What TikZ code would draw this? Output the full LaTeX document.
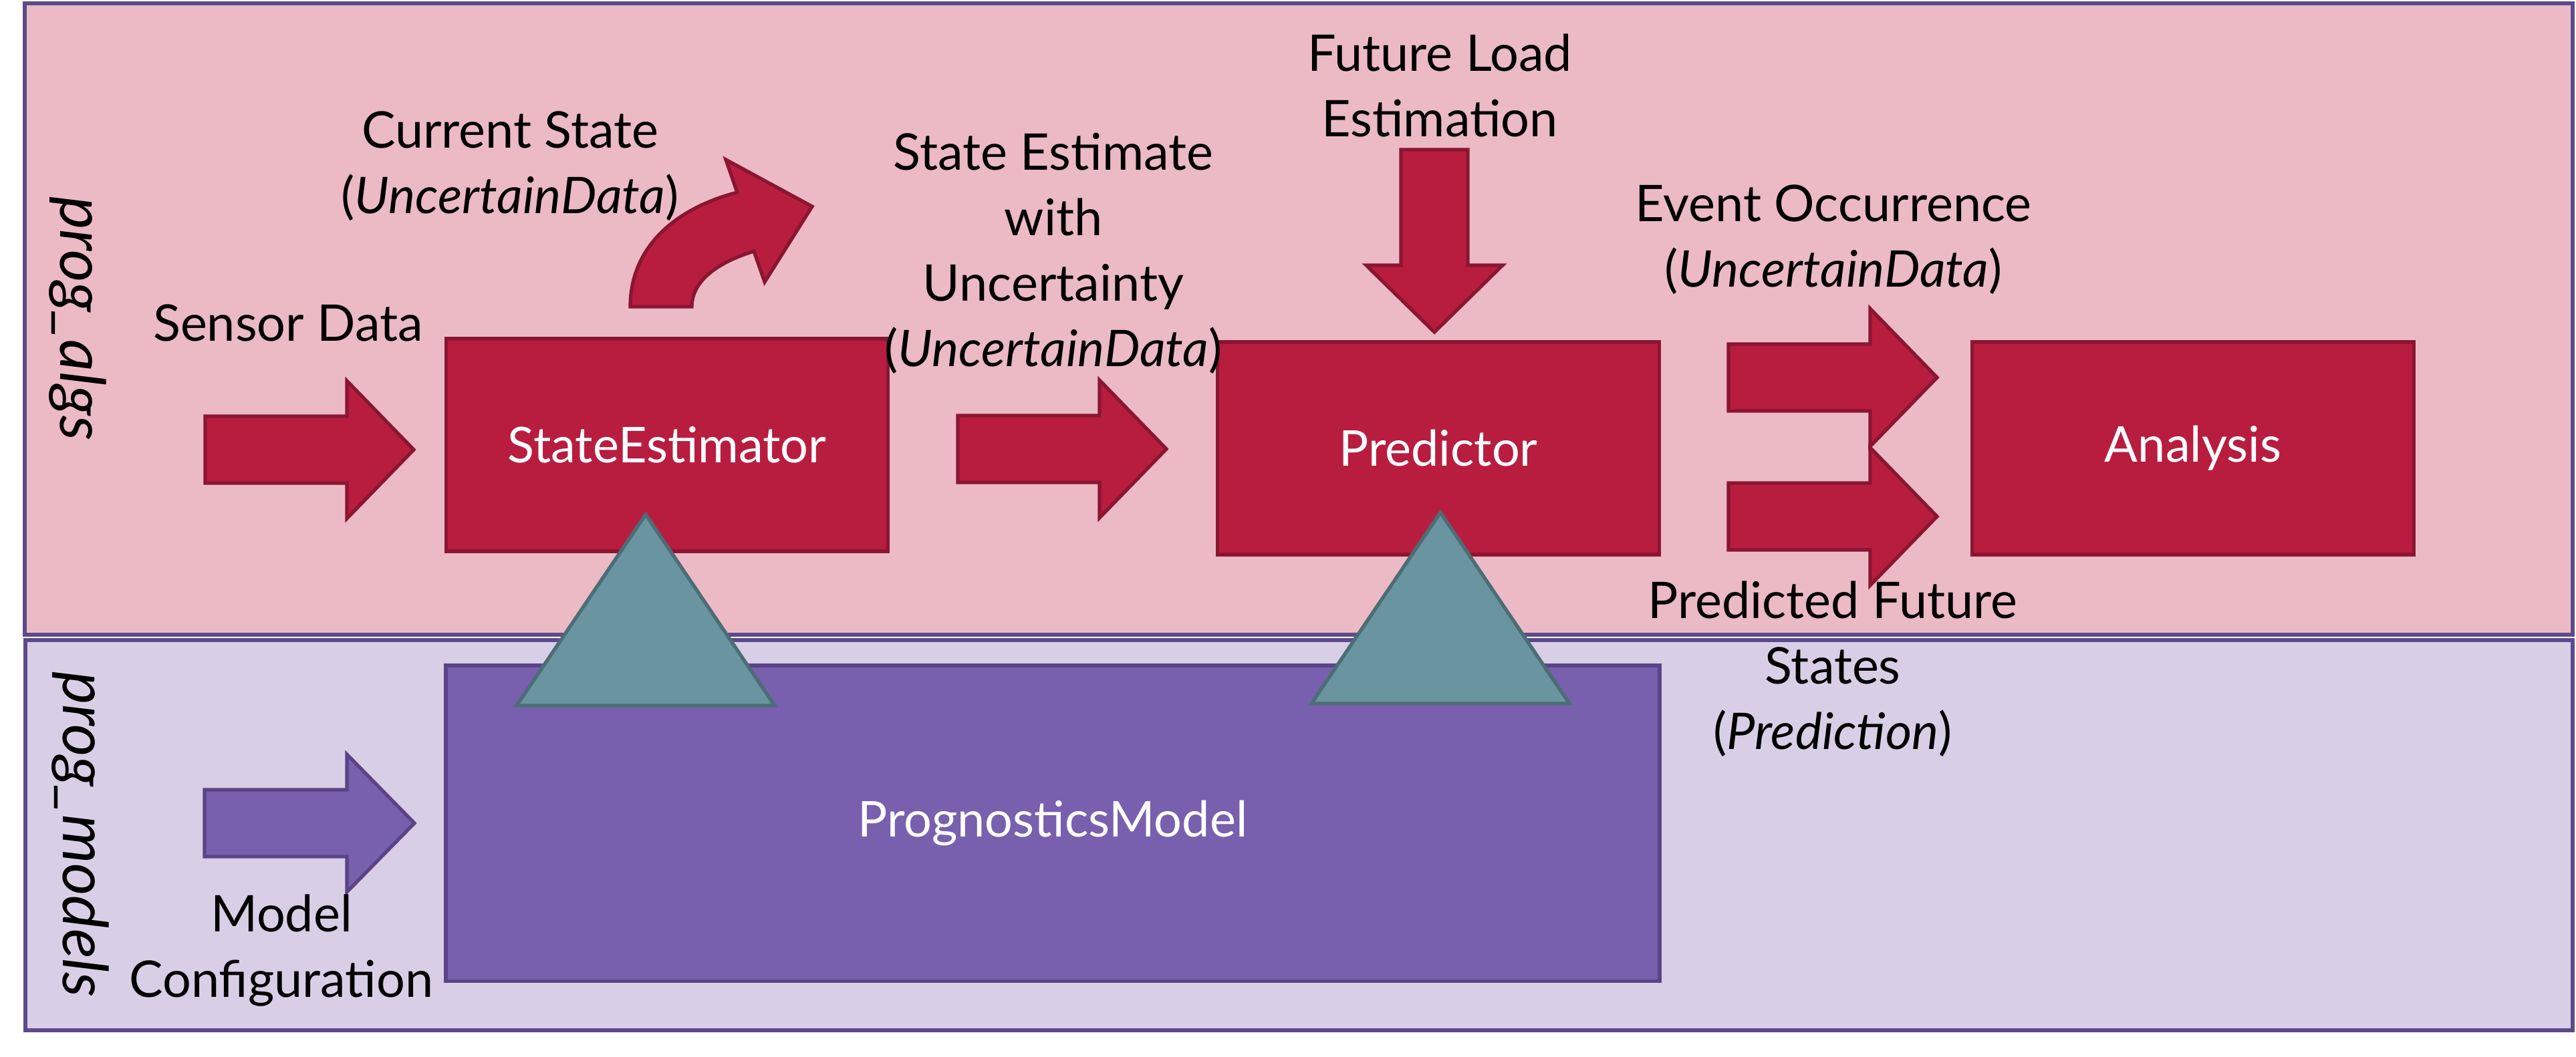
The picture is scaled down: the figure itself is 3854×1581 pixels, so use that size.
\documentclass[tikz,border=0pt]{standalone}
\usepackage{fontspec}
\setmainfont{Lato}
\definecolor{algsbg}{HTML}{EBBAC5}
\definecolor{modelsbg}{HTML}{D8CFE7}
\definecolor{panelline}{HTML}{5C4B8B}
\definecolor{redfill}{HTML}{B81D40}
\definecolor{redline}{HTML}{8A1631}
\definecolor{purplefill}{HTML}{7860AE}
\definecolor{purpleline}{HTML}{5A4486}
\definecolor{tealfill}{HTML}{6A94A0}
\definecolor{tealline}{HTML}{4B6D76}

\begin{document}
\begin{tikzpicture}[x=0.01cm, y=-0.01cm,
	panel/.style={draw=panelline, line width=1.8pt},
	lbl/.style={font=\fontsize{21.5}{27.8}\selectfont, inner sep=0pt, align=center, anchor=base},
	redbox/.style={draw=redline, fill=redfill, line width=1.5pt, text=white, font=\fontsize{21}{27.8}\selectfont, minimum width=6.6cm, minimum height=3.18cm},
	purplebox/.style={draw=purpleline, fill=purplefill, line width=1.5pt, text=white, font=\fontsize{21}{27.8}\selectfont},
	redarrow/.style={draw=redline, fill=redfill, line width=1.5pt},
	purplearrow/.style={draw=purpleline, fill=purplefill, line width=1.5pt},
	tri/.style={draw=tealline, fill=tealfill, line width=1.5pt},
	side/.style={font=\fontsize{26.5}{30}\selectfont\itshape, inner sep=0pt, rotate=-90}]
			\useasboundingbox (0,0) rectangle (3854,1581);
			\filldraw[panel, fill=algsbg] (37,5) rectangle (3849,950);
			\filldraw[panel, fill=modelsbg] (38,958) rectangle (3849,1542);
			\node[side] (algs) at (116,477) {prog\_algs};
			\node[side] (models) at (120,1249) {prog\_models};
			\node[redbox] (est) at (998,666) {StateEstimator};
			\node[redbox] (pred) at (2152,671) {Predictor};
			\node[redbox] (ana) at (3281,671) {Analysis};
			\node[purplebox, minimum width=18.15cm, minimum height=4.72cm] (model) at (1575,1232) {PrognosticsModel};
			\foreach \ax/\ay in {966/770, 2155/767}
			\filldraw[tri] (\ax,\ay) -- ++(193,286) -- ++(-386,0) -- cycle;
			\foreach \x/\y in {307/673, 1433/672, 2586/565, 2586/773}
			\filldraw[redarrow] (\x,\y) ++(0,-50) -- ++(212,0) -- ++(0,-53) -- ++(100,103) -- ++(-100,103) -- ++(0,-53) -- ++(-212,0) -- cycle;
			\filldraw[purplearrow] (306,1232) ++(0,-50) -- ++(213,0) -- ++(0,-53) -- ++(101,103) -- ++(-101,103) -- ++(0,-53) -- ++(-213,0) -- cycle;
			\filldraw[redarrow] (2096,224) -- (2196,224) -- (2196,397) -- (2248,397) -- (2146,497) -- (2044,397) -- (2096,397) -- cycle;
			\filldraw[redarrow] (943,459) .. controls (943,370) and (1010,312) .. (1103,288) -- (1086,239) -- (1215,309) -- (1144,422) -- (1128,376) .. controls (1075,392) and (1035,420) .. (1035,459) -- cycle;
			\node[lbl] (sensor) at (431,510) {Sensor Data};
			\node[lbl] (cur) at (763,319) {Current State\\(\textit{UncertainData})};
			\node[lbl] (sest) at (1576,548) {State Estimate\\with\\Uncertainty\\(\textit{UncertainData})};
			\node[lbl] (load) at (2154,204) {Future Load\\Estimation};
			\node[lbl] (event) at (2743,429) {Event Occurrence\\(\textit{UncertainData})};
			\node[lbl] (future) at (2742,1121) {Predicted Future\\States\\(\textit{Prediction})};
			\node[lbl] (config) at (421,1492) {Model\\Configuration};
			\end{tikzpicture}
\end{document}
